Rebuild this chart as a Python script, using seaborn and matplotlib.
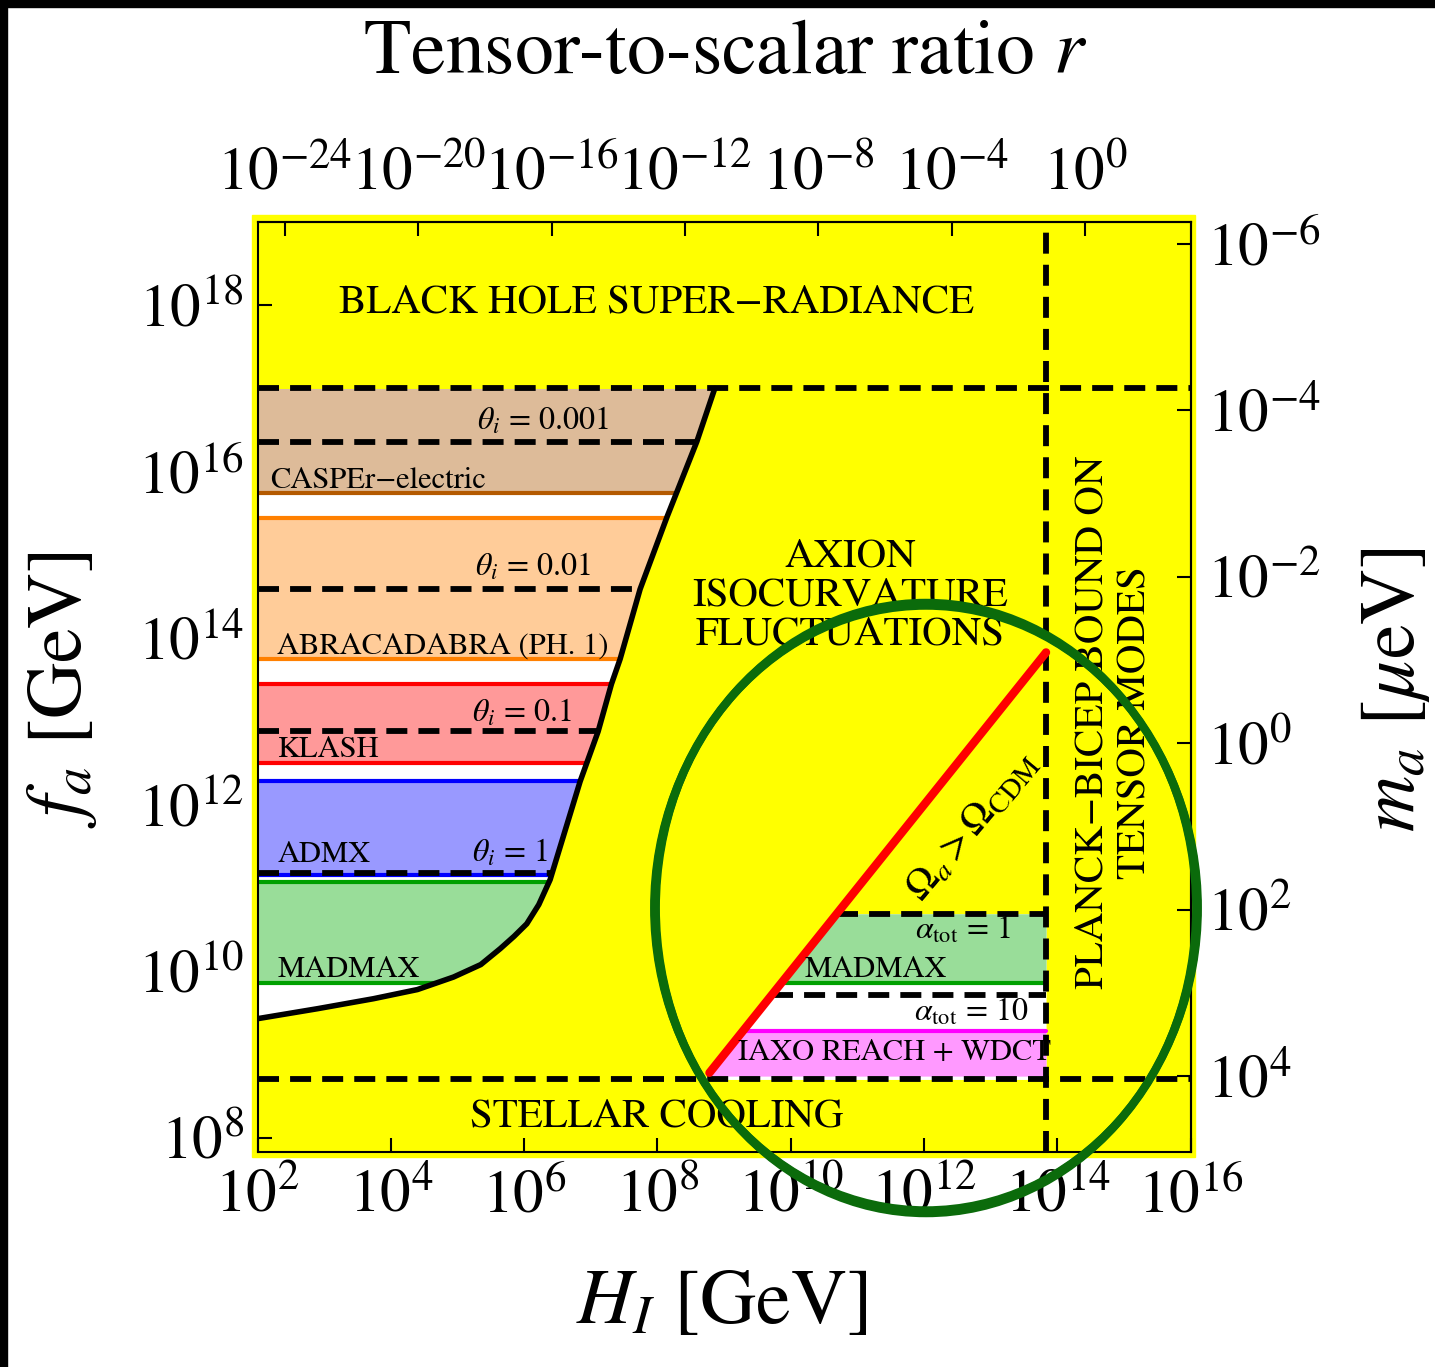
import numpy as np
import matplotlib
matplotlib.use("Agg")
import matplotlib.pyplot as plt
import seaborn as sns
from matplotlib.patches import Ellipse, Rectangle
from matplotlib.ticker import NullLocator

# isocurvature bound, log10 H_I [GeV] vs log10 f_a [GeV]
iso_logH = [2.00, 2.90, 3.74, 4.40, 4.94, 5.35, 5.64, 5.85, 6.04, 6.22, 6.39,
            6.84, 7.11, 7.31, 7.44, 7.74, 8.14, 8.59, 8.86]
iso_logf = [9.43, 9.55, 9.67, 9.78, 9.93, 10.08, 10.27, 10.42, 10.57, 10.80, 11.10,
            12.28, 12.88, 13.45, 13.75, 14.59, 15.45, 16.36, 17.00]

# global bounds
bh_logf = 17.0          # black hole super-radiance
stellar_logf = 8.70     # stellar cooling
planck_logH = 13.83     # Planck-BICEP bound on tensor modes

# experiment bands left of the isocurvature bound (log10 f_a)
band_names = ["CASPEr\u2212electric", "ABRACADABRA (PH. 1)", "KLASH", "ADMX", "MADMAX"]
band_lo = [15.74, 13.75, 12.50, 11.16, 9.86]
band_hi = [17.00, 15.44, 13.45, 12.28, 11.07]
band_fill = ["#DDBB99", "#FFCC99", "#FF9999", "#9999FF", "#99DD99"]
band_line = ["#B35900", "#FF8000", "#FF0000", "#0000FF", "#00A000"]
band_label_logf = [15.81, 13.82, 12.57, 11.31, 9.93]

# initial misalignment angle contours
theta_vals = ["0.001", "0.01", "0.1", "1"]
theta_logf = [16.36, 14.59, 12.88, 11.185]
theta_label_logH = [6.28, 6.14, 5.97, 5.79]
theta_label_logf = [16.61, 14.85, 13.10, 11.42]

# Omega_a > Omega_CDM line
omega_logH = [8.78, 13.83]
omega_logf = [8.78, 13.83]

# right region
alpha_vals = ["1", "10"]
alpha_logf = [10.69, 9.72]
alpha_label_logf = [10.49, 9.51]
madmax2_lo, madmax2_hi = 9.86, 10.69
iaxo_lo, iaxo_hi = 8.74, 9.28

# axis ticks
x_ticks = [2, 4, 6, 8, 10, 12, 14, 16]
y_ticks = [8, 10, 12, 14, 16, 18]
r_ticks = [-24, -20, -16, -12, -8, -4, 0]
m_ticks = [-6, -4, -2, 0, 2, 4]
logH_r1 = 14.4125      # H_I at r = 1
logm_const = 12.74     # m_a [ueV] * f_a [GeV]

sns.set_theme(style="ticks")
plt.rcParams["font.family"] = ["STIXGeneral", "DejaVu Serif"]
plt.rcParams["mathtext.fontset"] = "stix"
plt.rcParams["text.color"] = "black"
plt.rcParams["axes.labelcolor"] = "black"

YELLOW = "#FFFF00"
fig = plt.figure(figsize=(14.35, 13.67), dpi=100)
fig.patch.set_facecolor("white")
ax = fig.add_axes([257.5 / 1435, 1 - 1152.3 / 1367, 933.2 / 1435, 930.3 / 1367])
ax.set_xscale("log")
ax.set_yscale("log")
ax.set_xlim(1e2, 1e16)
ax.set_ylim(10 ** 7.825, 1e19)
ax.set_facecolor(YELLOW)

# thin yellow margin around the frame + black border strips of the picture
fig.add_artist(Rectangle((252 / 1435, 1 - 1157 / 1367), 943 / 1435, 942 / 1367,
                         transform=fig.transFigure, color=YELLOW, zorder=-5))
fig.add_artist(Rectangle((0, 1 - 7 / 1367), 1, 7 / 1367, transform=fig.transFigure,
                         color="black", zorder=10))
fig.add_artist(Rectangle((0, 0), 7 / 1435, 1, transform=fig.transFigure,
                         color="black", zorder=10))


def iso_H(logf):
    return 10 ** np.interp(logf, iso_logf, iso_logH)


dash = (3.6, 1.9)
dlw = 4.2

# white allowed region left of the curve
yy = np.linspace(iso_logf[0], bh_logf, 400)
ax.fill_betweenx(10 ** yy, 1e2, iso_H(yy), color="white", lw=0, zorder=1)

for i, name in enumerate(band_names):
    yy = np.linspace(band_lo[i], band_hi[i], 200)
    ax.fill_betweenx(10 ** yy, 1e2, iso_H(yy), color=band_fill[i], lw=0, zorder=1.2)
    edges = [band_lo[i]] if i == 0 else [band_lo[i], band_hi[i]]
    for e in edges:
        ax.plot([1e2, iso_H(e)], [10 ** e, 10 ** e], color=band_line[i], lw=3, zorder=1.5,
                solid_capstyle="butt")
    ax.text(10 ** (2.19 if i == 0 else 2.30), 10 ** band_label_logf[i], name,
            fontsize=22, ha="left", va="baseline", zorder=4)

for i, t in enumerate(theta_vals):
    lf = theta_logf[i]
    ax.plot([1e2, iso_H(lf)], [10 ** lf, 10 ** lf], color="black", lw=dlw,
            dashes=dash, zorder=2)
    ax.text(10 ** theta_label_logH[i], 10 ** theta_label_logf[i],
            r"$\theta_i\,=\,%s$" % t, fontsize=23, ha="center", va="center", zorder=4)

sns.lineplot(x=10 ** np.array(iso_logH), y=10 ** np.array(iso_logf), sort=False,
             color="black", lw=4, ax=ax, zorder=3)

# right region: Omega_a > Omega_CDM, MADMAX, IAXO
yy = np.linspace(stellar_logf, alpha_logf[0], 200)
ax.fill_betweenx(10 ** yy, 10 ** yy, 10 ** planck_logH, color="white", lw=0, zorder=1)
yy = np.linspace(madmax2_lo, madmax2_hi, 200)
ax.fill_betweenx(10 ** yy, 10 ** yy, 10 ** planck_logH, color="#99DD99", lw=0, zorder=1.2)
yy = np.linspace(iaxo_lo, iaxo_hi, 200)
ax.fill_betweenx(10 ** yy, 10 ** yy, 10 ** planck_logH, color="#FF99FF", lw=0, zorder=1.2)
ax.plot([10 ** madmax2_lo, 10 ** planck_logH], [10 ** madmax2_lo] * 2, color="#00A000",
        lw=3, zorder=1.5)
ax.plot([10 ** iaxo_hi, 10 ** planck_logH], [10 ** iaxo_hi] * 2, color="#FF00FF",
        lw=3, zorder=1.5)
for i, a in enumerate(alpha_vals):
    lf = alpha_logf[i]
    ax.plot([10 ** lf, 10 ** planck_logH], [10 ** lf] * 2, color="black", lw=dlw,
            dashes=dash, zorder=2)
    ax.text(10 ** (13.30 if i == 0 else 13.57), 10 ** alpha_label_logf[i],
            r"$\alpha_{\rm tot}\,=\,%s$" % a, fontsize=23, ha="right", va="center", zorder=4)
ax.text(10 ** 10.2, 10 ** 9.93, "MADMAX", fontsize=22, ha="left", va="baseline", zorder=4)
ax.text(10 ** 11.56, 10 ** 9.02, "IAXO REACH + WDCT", fontsize=22, ha="center",
        va="center", zorder=4)

sns.lineplot(x=10 ** np.array(omega_logH), y=10 ** np.array(omega_logf), sort=False,
             color="#FF0000", lw=6, ax=ax, zorder=3)
ax.text(10 ** 12.72, 10 ** 11.74, r"$\Omega_a > \Omega_{\rm CDM}$", fontsize=29,
        rotation=50, ha="center", va="center", rotation_mode="anchor", zorder=4)

# global dashed bounds
for lf in [bh_logf, stellar_logf]:
    ax.axhline(10 ** lf, color="black", lw=dlw, dashes=dash, zorder=2.5)
ax.axvline(10 ** planck_logH, color="black", lw=dlw, dashes=dash, zorder=2.5)

big = 29.5
ax.text(10 ** 7.99, 10 ** 18.03, "BLACK HOLE SUPER\u2212RADIANCE", fontsize=big,
        ha="center", va="center", zorder=4)
ax.text(10 ** 7.99, 10 ** 8.25, "STELLAR COOLING", fontsize=big, ha="center",
        va="center", zorder=4)
ax.text(10 ** 10.89, 10 ** 14.51, "AXION\nISOCURVATURE\nFLUCTUATIONS", fontsize=big,
        ha="center", va="center", linespacing=1.05, zorder=4)
ax.text(10 ** 14.86, 10 ** 12.99, "PLANCK\u2212BICEP BOUND ON\nTENSOR MODES", fontsize=big,
        ha="center", va="center", rotation=90, linespacing=1.2, multialignment="center",
        zorder=4)

# axes, ticks
for s in ax.spines.values():
    s.set_color("black")
    s.set_linewidth(1.5)
    s.set_zorder(5)
ax.set_xticks([10.0 ** k for k in x_ticks], [r"$10^{%d}$" % k for k in x_ticks])
ax.set_yticks([10.0 ** k for k in y_ticks], [r"$10^{%d}$" % k for k in y_ticks])
ax.xaxis.set_minor_locator(NullLocator())
ax.yaxis.set_minor_locator(NullLocator())
ax.tick_params(axis="both", which="major", direction="in", length=10, width=1.5,
               labelsize=44, bottom=True, left=True, top=False, right=False,
               color="black", labelcolor="black")
ax.tick_params(axis="x", pad=12)
ax.tick_params(axis="y", pad=10)

secx = ax.secondary_xaxis("top", functions=(lambda h: (h / 10 ** logH_r1) ** 2,
                                            lambda r: 10 ** logH_r1 * np.sqrt(np.abs(r))))
secx.set_xticks([10.0 ** k for k in r_ticks], [r"$10^{%d}$" % k for k in r_ticks])
secx.xaxis.set_minor_locator(NullLocator())
secx.tick_params(direction="in", length=10, width=1.5, labelsize=44, pad=14,
                 color="black", labelcolor="black")
secx.spines["top"].set_linewidth(1.5)
secx.spines["top"].set_color("black")

secy = ax.secondary_yaxis("right", functions=(lambda f: 10 ** logm_const / f,
                                              lambda m: 10 ** logm_const / m))
secy.set_yticks([10.0 ** k for k in m_ticks], [r"$10^{%d}$" % k for k in m_ticks])
secy.yaxis.set_minor_locator(NullLocator())
secy.tick_params(direction="in", length=10, width=1.5, labelsize=44, pad=12,
                 color="black", labelcolor="black")
secy.spines["right"].set_linewidth(1.5)
secy.spines["right"].set_color("black")

# titles / labels
fig.text(725 / 1435, 1 - 55 / 1367, r"Tensor-to-scalar ratio $r$", fontsize=56,
         ha="center", va="center", color="black")
fig.text(722 / 1435, 1 - 1305 / 1367, r"$H_I$ [GeV]", fontsize=56, ha="center",
         va="center", color="black")
fig.text(62 / 1435, 1 - 690 / 1367, r"$f_a$ [GeV]", fontsize=56, ha="center", va="center",
         rotation=90, color="black")
fig.text(1395 / 1435, 1 - 690 / 1367, r"$m_a$ [$\mu$eV]", fontsize=56, ha="center",
         va="center", rotation=90, color="black")

# hand-drawn highlight ellipse
for dw, dh, lw in [(0, 0, 6), (5, -4, 3.5), (-5, 5, 3.5), (2, 8, 2.5), (-3, -7, 2.5)]:
    fig.add_artist(Ellipse((926 / 1435, 1 - 908 / 1367), (542 + dw) / 1435,
                           (607 + dh) / 1367, transform=fig.transFigure, fill=False,
                           ec="#0B6B0B", lw=lw, zorder=8))

fig.savefig("out.png", dpi=100)
